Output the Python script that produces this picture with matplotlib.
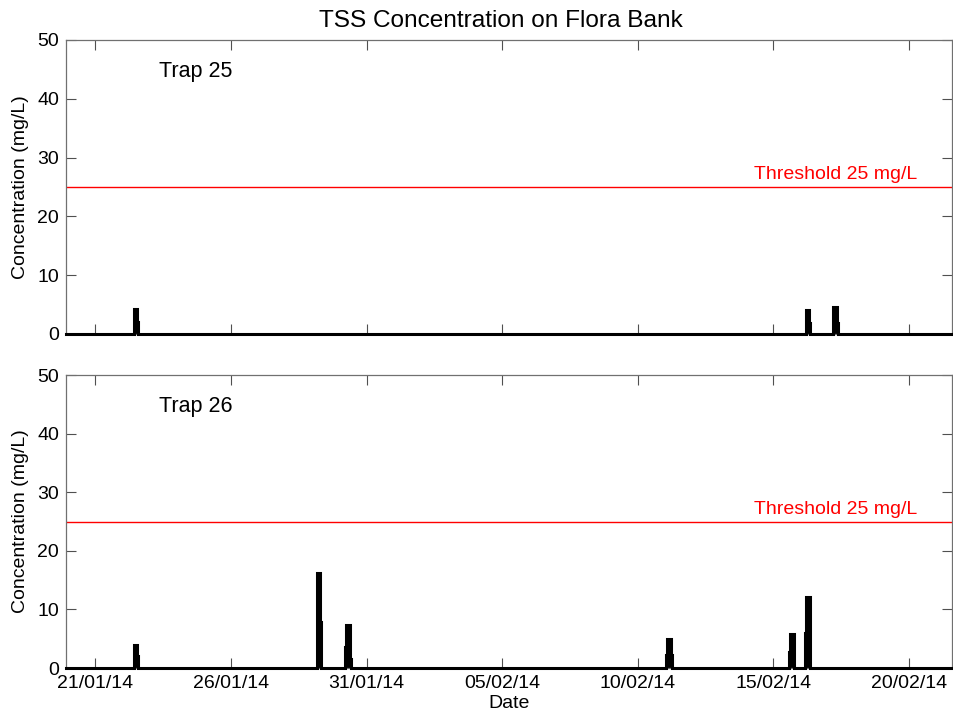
import matplotlib
matplotlib.use('Agg')
import matplotlib.pyplot as plt
import matplotlib.dates as mdates
import matplotlib.transforms as mtransforms
import pandas as pd

plt.rcParams['font.family'] = ['Liberation Sans', 'DejaVu Sans']
plt.rcParams['font.size'] = 14

# TSS samples (mg/L), step series; zero between events
trap25_times = ['2014-01-19 22:00',
                '2014-01-22 10:30', '2014-01-22 13:00', '2014-01-22 14:00',
                '2014-02-16 05:00', '2014-02-16 07:30', '2014-02-16 08:30',
                '2014-02-17 04:30', '2014-02-17 08:00', '2014-02-17 09:00',
                '2014-02-21 14:00']
trap25_tss = [0,
              4.2, 2.1, 0,
              4.1, 1.9, 0,
              4.6, 1.9, 0,
              0]

trap26_times = ['2014-01-19 22:00',
                '2014-01-22 10:30', '2014-01-22 13:00', '2014-01-22 14:00',
                '2014-01-29 04:00', '2014-01-29 07:00', '2014-01-29 08:00',
                '2014-01-30 04:30', '2014-01-30 05:30', '2014-01-30 09:00', '2014-01-30 10:00',
                '2014-02-11 00:30', '2014-02-11 01:30', '2014-02-11 05:00', '2014-02-11 06:30',
                '2014-02-15 14:00', '2014-02-15 15:00', '2014-02-15 18:30',
                '2014-02-16 03:30', '2014-02-16 04:30', '2014-02-16 08:30',
                '2014-02-21 14:00']
trap26_tss = [0,
              4.0, 2.0, 0,
              16.2, 7.9, 0,
              3.6, 7.3, 1.5, 0,
              2.3, 4.95, 2.3, 0,
              2.8, 5.8, 0,
              6.0, 12.2, 0,
              0]

threshold = 25
tick_dates = ['2014-01-21', '2014-01-26', '2014-01-31', '2014-02-05',
              '2014-02-10', '2014-02-15', '2014-02-20']

panels = [('Trap 25', trap25_times, trap25_tss),
          ('Trap 26', trap26_times, trap26_tss)]

fig = plt.figure(figsize=(9.54, 7.24), dpi=100)
ax1 = fig.add_axes([0.0692, 0.5387, 0.9287, 0.4061])
ax2 = fig.add_axes([0.0692, 0.0773, 0.9287, 0.4047])

for ax, (name, times, tss) in zip([ax1, ax2], panels):
    t = pd.to_datetime(times)
    ax.fill_between(t, tss, 0, step='post', color='black', lw=0)
    ax.plot(t, tss, color='black', lw=2.2, drawstyle='steps-post',
            solid_joinstyle='miter', clip_on=False, zorder=3)
    ax.axhline(threshold, color='red', lw=1)
    blend = mtransforms.blended_transform_factory(ax.transAxes, ax.transData)
    ax.text(0.869, threshold + 0.6, f'Threshold {threshold} mg/L', color='red',
            ha='center', va='bottom', fontsize=14, transform=blend)
    ax.text(0.105, 44.6, name, ha='left', va='center', fontsize=15.5, transform=blend)
    ax.set_xlim(t[0], t[-1])
    ax.set_ylim(0, 50)
    ax.set_yticks([0, 10, 20, 30, 40, 50])
    ax.set_xticks(pd.to_datetime(tick_dates))
    ax.xaxis.set_major_formatter(mdates.DateFormatter('%d/%m/%y'))
    ax.set_ylabel('Concentration (mg/L)', labelpad=6)
    ax.tick_params(direction='in', top=True, right=True, length=7, width=0.8, pad=5,
                   color='#505050')
    for s in ax.spines.values():
        s.set_linewidth(0.9)
        s.set_color('#707070')

ax1.set_xticklabels([])
ax1.set_title('TSS Concentration on Flora Bank', pad=9, fontsize=17.6, x=0.491)
ax2.set_xlabel('Date', labelpad=2)

fig.savefig('out.png', dpi=100)
